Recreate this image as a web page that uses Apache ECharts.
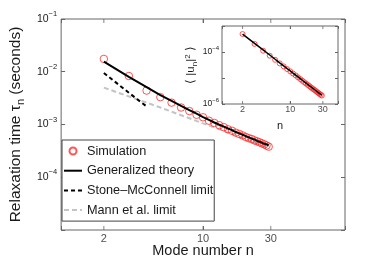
<!DOCTYPE html>
<html><head><meta charset="utf-8">
<script src="https://cdn.jsdelivr.net/npm/echarts@6/dist/echarts.min.js"></script>
<style>html,body{margin:0;padding:0;background:#fff}#c{width:382px;height:268px}</style>
</head><body><div id="c"></div>
<script>
// ---- data ----
const modeN = [2,3,4,5,6,7,8,9,10,11,12,13,14,15,16,17,18,19,20,21,22,23,24,25,26,27,28,29];
const simTau = [0.0175,0.0083,0.0044,0.0033,0.0026,0.0021,0.0018,0.00153,0.00137,0.00118,0.00107,0.00097,0.00089,0.00081,0.00076,0.00070,0.00066,0.00062,0.00058,0.00055,0.00053,0.00050,0.00048,0.00046,0.00044,0.00042,0.00040,0.00038];
const theoryTau = [0.0155,0.0080,0.0051,0.0036,0.0028,0.00226,0.00188,0.00160,0.00138,0.00122,0.00109,0.00099,0.00091,0.00084,0.00078,0.00072,0.00068,0.00064,0.00060,0.00057,0.00054,0.00052,0.00049,0.00047,0.00045,0.00043,0.00042,0.00040];
const stoneN = [2,3,4];
const stoneTau = [0.0095,0.0040,0.0022];
const mannN = [2,5,10,20,29];
const mannTau = [0.0050,0.0021,0.00105,0.00053,0.00037];
const insetSim = [4.9e-4,2.05e-4,1.12e-4,7.2e-5,5.0e-5,3.65e-5,2.8e-5,2.2e-5,1.8e-5,1.48e-5,1.25e-5,1.06e-5,9.1e-6,7.9e-6,6.9e-6,6.1e-6,5.45e-6,4.9e-6,4.4e-6,4.0e-6,3.65e-6,3.35e-6,3.07e-6,2.83e-6,2.62e-6,2.43e-6,2.26e-6,2.12e-6];
const insetTheory = [4.9e-4,2.15e-4,1.2e-4,7.65e-5,5.25e-5,3.84e-5,2.94e-5,2.3e-5,1.87e-5,1.53e-5,1.29e-5,1.1e-5,9.45e-6,8.2e-6,7.2e-6,6.37e-6,5.66e-6,5.07e-6,4.57e-6,4.14e-6,3.77e-6,3.45e-6,3.17e-6,2.92e-6,2.7e-6,2.5e-6,2.32e-6,2.17e-6];
const mainXTicks = [2,10,30];
const insetXTicks = [2,10,30];
const mainYExps = [-1,-2,-3,-4];
const insetYExps = [-4,-6];

// ---- chart ----
const FONT = 'Liberation Sans, Arial, Helvetica, sans-serif';
const TXT = '#1a1a1a';
const BOX = '#666';
const pairs = (xs, ys) => xs.map((x, i) => [x, ys[i]]);
function supLabel(v, shown) {
  const e = Math.round(Math.log10(v));
  if (shown.indexOf(e) < 0) return '';
  return '{b|10}{s|' + (e < 0 ? '\u2212' : '') + Math.abs(e) + '}';
}
function logAxis(extra) {
  return Object.assign({
    type: 'log', logBase: 10,
    axisLine: {show: false},
    axisTick: {show: true, inside: true, length: 4, lineStyle: {color: BOX, width: 1}},
    axisLabel: {show: false},
    splitLine: {show: false},
    minorTick: {show: false}
  }, extra);
}
const chart = echarts.init(document.getElementById('c'), null, {renderer: 'canvas'});
const option = {
  animation: false,
  backgroundColor: '#fff',
  textStyle: {fontFamily: FONT},
  grid: [
    {left: 52, top: 19, right: 37, bottom: 38, show: true, borderColor: BOX, borderWidth: 1, backgroundColor: 'transparent'},
    {left: 222, top: 26, width: 116, height: 78, show: true, borderColor: BOX, borderWidth: 1, backgroundColor: '#fff'}
  ],
  xAxis: [
    logAxis({gridIndex: 0, position: 'bottom', min: 1, max: 100,
      name: 'Mode number n', nameLocation: 'middle', nameGap: 13,
      nameTextStyle: {fontSize: 14.5, color: TXT, fontFamily: FONT}}),
    logAxis({gridIndex: 0, position: 'top', min: 1, max: 100}),
    logAxis({gridIndex: 1, position: 'bottom', min: 1, max: 50,
      axisTick: {show: true, inside: true, length: 3, lineStyle: {color: BOX}},
      name: 'n', nameLocation: 'middle', nameGap: 16,
      nameTextStyle: {fontSize: 11, color: TXT, fontFamily: FONT}}),
    logAxis({gridIndex: 1, position: 'top', min: 1, max: 50,
      axisTick: {show: true, inside: true, length: 3, lineStyle: {color: BOX}}})
  ],
  yAxis: [
    logAxis({gridIndex: 0, position: 'left', min: 1e-5, max: 0.1,
      axisLabel: {show: true, margin: 4, formatter: v => supLabel(v, mainYExps),
        rich: {b: {fontSize: 10.5, lineHeight: 18, color: TXT, fontFamily: FONT},
               s: {fontSize: 7.5, lineHeight: 9, verticalAlign: 'top', color: TXT, fontFamily: FONT}}},
      name: '{a|Relaxation time \u03c4}{s|n}{a| (seconds)}', nameLocation: 'middle', nameGap: 29,
      nameTextStyle: {rich: {a: {fontSize: 15.5, lineHeight: 20, color: TXT, fontFamily: FONT},
                             s: {fontSize: 11, lineHeight: 11, verticalAlign: 'bottom', color: TXT, fontFamily: FONT}}}}),
    logAxis({gridIndex: 0, position: 'right', min: 1e-5, max: 0.1}),
    logAxis({gridIndex: 1, position: 'left', min: 1e-6, max: 1e-3,
      axisTick: {show: true, inside: true, length: 3, lineStyle: {color: BOX}},
      axisLabel: {show: true, margin: 3, formatter: v => supLabel(v, insetYExps),
        rich: {b: {fontSize: 8.5, lineHeight: 14, color: TXT, fontFamily: FONT},
               s: {fontSize: 6, lineHeight: 7, verticalAlign: 'top', color: TXT, fontFamily: FONT}}},
      name: '{a|\u27e8 |u}{s|n}{a||}{p|2}{a| \u27e9}', nameLocation: 'middle', nameGap: 21,
      nameTextStyle: {rich: {a: {fontSize: 11.5, lineHeight: 15, color: TXT, fontFamily: FONT},
                             s: {fontSize: 8, lineHeight: 8, verticalAlign: 'bottom', color: TXT, fontFamily: FONT},
                             p: {fontSize: 8, lineHeight: 8, verticalAlign: 'top', color: TXT, fontFamily: FONT}}}}),
    logAxis({gridIndex: 1, position: 'right', min: 1e-6, max: 1e-3,
      axisTick: {show: true, inside: true, length: 3, lineStyle: {color: BOX}}})
  ],
  legend: {
    show: true, orient: 'vertical', left: 62, top: 140,
    padding: [4, 1, 4, 1], itemGap: 5.7, itemWidth: 18, itemHeight: 7,
    backgroundColor: '#fff', borderColor: '#444', borderWidth: 1,
    selectedMode: false,
    textStyle: {fontSize: 12.7, lineHeight: 14, color: TXT, fontFamily: FONT},
    data: ['Simulation', 'Generalized theory', 'Stone\u2013McConnell limit', 'Mann et al. limit']
  },
  series: [
    {type: 'line', name: 'Mann et al. limit', xAxisIndex: 0, yAxisIndex: 0,
      data: pairs(mannN, mannTau), symbol: 'none', z: 2,
      lineStyle: {color: '#c4c4c4', width: 2, type: [5, 3]}, itemStyle: {color: '#c4c4c4', opacity: 0}},
    {type: 'line', name: 'Stone\u2013McConnell limit', xAxisIndex: 0, yAxisIndex: 0,
      data: pairs(stoneN, stoneTau), symbol: 'none', z: 3,
      lineStyle: {color: '#000', width: 2, type: [4, 3]}, itemStyle: {color: '#000', opacity: 0}},
    {type: 'scatter', name: 'Simulation', xAxisIndex: 0, yAxisIndex: 0,
      data: pairs(modeN, simTau), symbol: 'circle', symbolSize: 7.5, z: 3,
      itemStyle: {color: 'rgba(255,255,255,0)', borderColor: '#ff2a2a', borderWidth: 1}},
    {type: 'line', name: 'Generalized theory', xAxisIndex: 0, yAxisIndex: 0,
      data: pairs(modeN, theoryTau), symbol: 'none', z: 4,
      lineStyle: {color: '#000', width: 2}, itemStyle: {color: '#000', opacity: 0}},
    // inset
    {type: 'scatter', name: 'insetSim', xAxisIndex: 2, yAxisIndex: 2,
      data: pairs(modeN, insetSim), symbol: 'circle', symbolSize: 5, z: 5,
      itemStyle: {color: 'rgba(255,255,255,0)', borderColor: '#ff2a2a', borderWidth: 1}},
    {type: 'line', name: 'insetTheory', xAxisIndex: 2, yAxisIndex: 2,
      data: pairs(modeN, insetTheory), symbol: 'none', z: 6,
      lineStyle: {color: '#000', width: 1.5}},
    // tick marks and labels at 2, 10, 30
    {type: 'scatter', name: 'mainXLabels', xAxisIndex: 0, yAxisIndex: 0, clip: false, silent: true, z: 7,
      data: mainXTicks.map(v => [v, 1e-5]), symbol: 'rect', symbolSize: [1, 4], symbolOffset: [0, -2],
      itemStyle: {color: BOX},
      label: {show: true, position: 'bottom', distance: 3, formatter: p => String(p.value[0]),
        fontSize: 11, color: TXT, fontFamily: FONT}},
    {type: 'scatter', name: 'mainXTop', xAxisIndex: 0, yAxisIndex: 0, clip: false, silent: true, z: 7,
      data: mainXTicks.map(v => [v, 0.1]), symbol: 'rect', symbolSize: [1, 4], symbolOffset: [0, 2],
      itemStyle: {color: BOX}},
    {type: 'scatter', name: 'insetXLabels', xAxisIndex: 2, yAxisIndex: 2, clip: false, silent: true, z: 7,
      data: insetXTicks.map(v => [v, 1e-6]), symbol: 'rect', symbolSize: [1, 3], symbolOffset: [0, -1.5],
      itemStyle: {color: BOX},
      label: {show: true, position: 'bottom', distance: 1, formatter: p => String(p.value[0]),
        fontSize: 9, color: TXT, fontFamily: FONT}},
    {type: 'scatter', name: 'insetXTop', xAxisIndex: 2, yAxisIndex: 2, clip: false, silent: true, z: 7,
      data: insetXTicks.map(v => [v, 1e-3]), symbol: 'rect', symbolSize: [1, 3], symbolOffset: [0, 1.5],
      itemStyle: {color: BOX}}
  ]
};
chart.setOption(option);
</script></body></html>
